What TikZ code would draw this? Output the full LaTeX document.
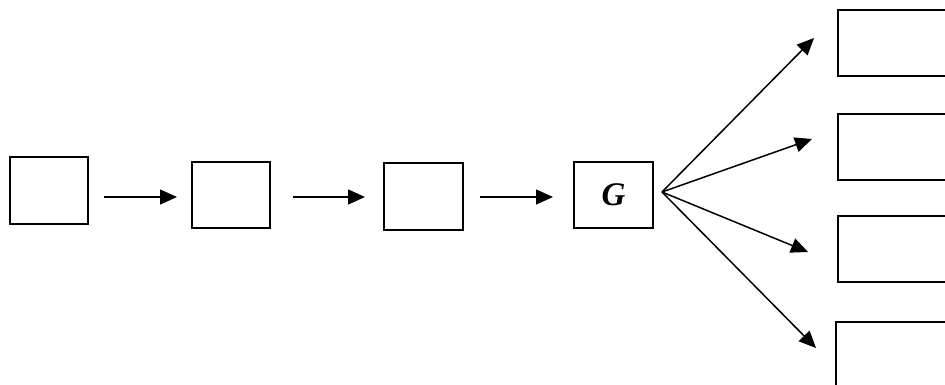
\documentclass[tikz,border=0pt]{standalone}
\usepackage{fontspec}
\setmainfont{Liberation Serif}
\usetikzlibrary{arrows.meta}
\begin{document}
\begin{tikzpicture}[x=1pt,y=-1pt,
  box/.style={draw,line width=2pt,rectangle,inner sep=0pt,minimum width=78pt,minimum height=66pt},
  wbox/.style={draw,line width=2pt,rectangle,inner sep=0pt,minimum width=162pt,minimum height=66pt},
  arr/.style={line width=1.5pt,-{Triangle[length=17pt,width=15pt]}}]
\useasboundingbox (0,0) rectangle (945,385);
\node[box,minimum height=67pt] (b1) at (49,190.5) {};
\node[box] (b2) at (231,195) {};
\node[box,minimum width=79pt,minimum height=67pt] (b3) at (423.5,196.5) {};
\node[box,minimum width=79pt] (g) at (613.5,195) {\fontsize{33}{38}\selectfont\bfseries\itshape G};
\node[wbox] (r1) at (919,43) {};
\node[wbox] (r2) at (919,147) {};
\node[wbox] (r3) at (919,249) {};
\node[wbox] (r4) at (917,355) {};
\coordinate (a1s) at (104,197);
\coordinate (a1e) at (177,197);
\coordinate (a2s) at (293,197);
\coordinate (a2e) at (365,197);
\coordinate (a3s) at (480,197);
\coordinate (a3e) at (553,197);
\draw[arr] (a1s) -- (a1e);
\draw[arr] (a2s) -- (a2e);
\draw[arr] (a3s) -- (a3e);
\coordinate (fo) at (662,192);
\coordinate (t1) at (814,38);
\coordinate (t2) at (812,139);
\coordinate (t3) at (808,252);
\coordinate (t4) at (816,348);
\draw[arr] (fo) -- (t1);
\draw[arr] (fo) -- (t2);
\draw[arr] (fo) -- (t3);
\draw[arr] (fo) -- (t4);
\end{tikzpicture}
\end{document}
